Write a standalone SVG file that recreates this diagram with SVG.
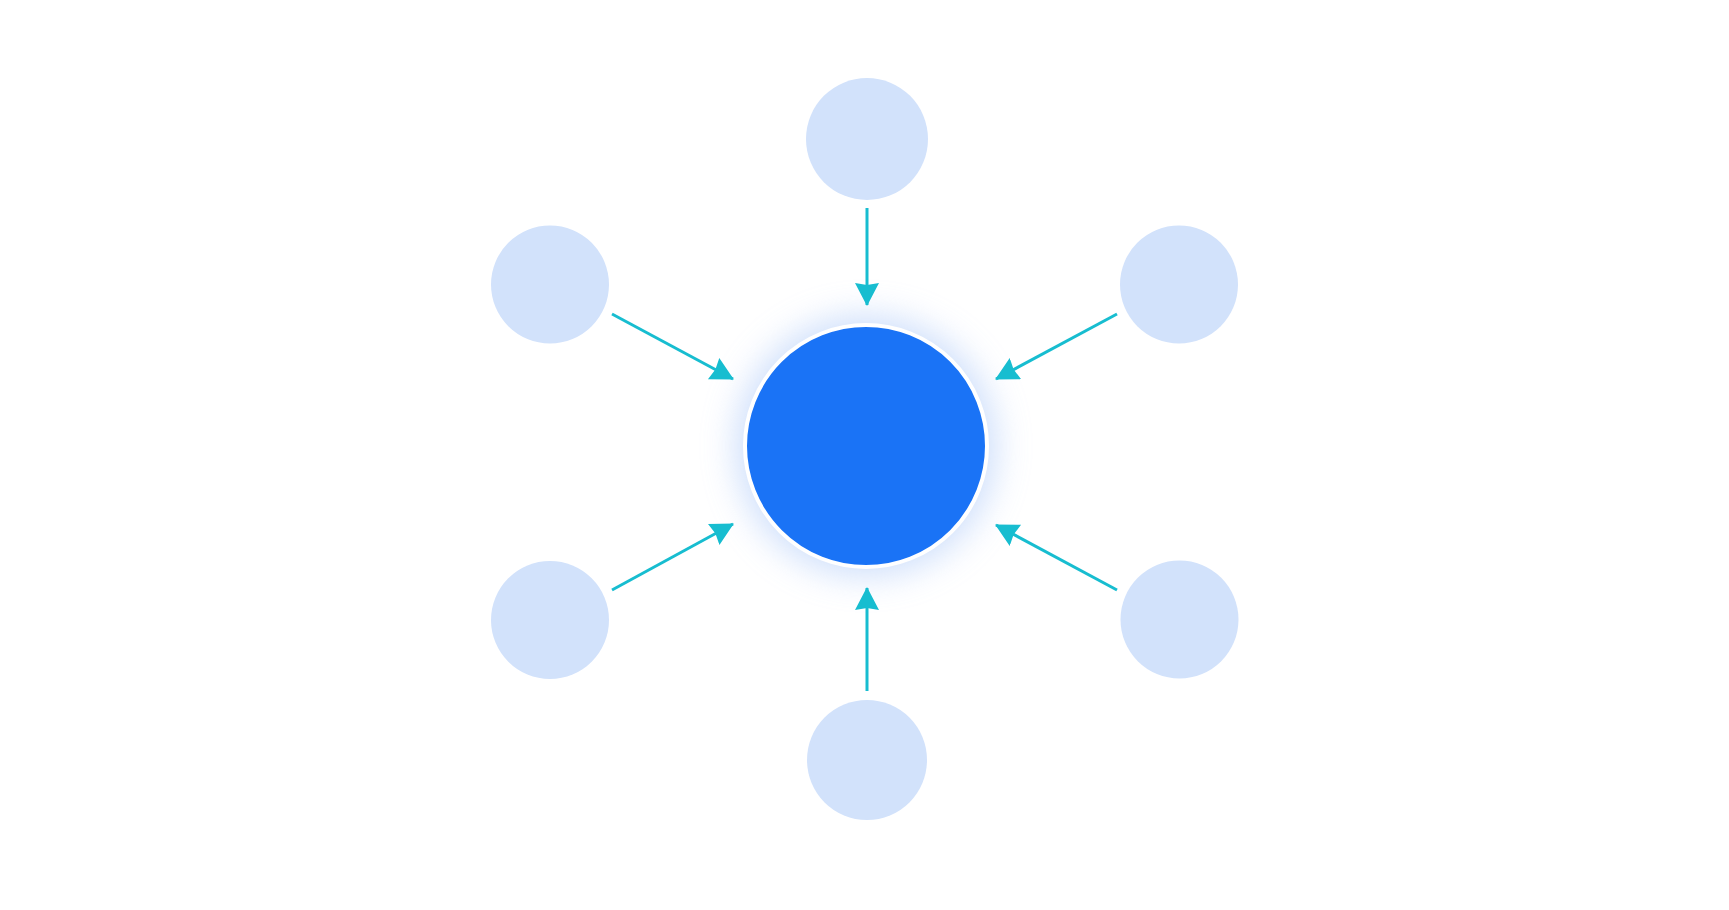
<svg xmlns="http://www.w3.org/2000/svg" width="1729" height="910" viewBox="0 0 1729 910">
  <defs>
    <style>
      .sat { fill: #D2E2FB; }
      .conn { stroke: #17BDD0; stroke-width: 3; fill: none; marker-end: url(#arrow); }
    </style>
    <marker id="arrow" markerUnits="userSpaceOnUse" markerWidth="24" markerHeight="26" refX="22" refY="12" orient="auto">
      <path d="M0,0 L23,12 L0,24 L2,12 z" fill="#17BDD0"/>
    </marker>
    <filter id="glow" x="-50%" y="-50%" width="200%" height="200%">
      <feGaussianBlur stdDeviation="17"/>
    </filter>
  </defs>
  <rect x="0" y="0" width="1729" height="910" fill="#FFFFFF"/>

  <g id="center">
    <circle cx="866" cy="446" r="130" fill="#B3CDF9" opacity="0.65" filter="url(#glow)"/>
    <circle cx="866" cy="446" r="121" fill="#1A73F6" stroke="#FFFFFF" stroke-width="4"/>
  </g>

  <g id="node-top"><circle class="sat" cx="867" cy="139" r="61"/></g>
  <g id="node-upper-left"><circle class="sat" cx="550" cy="284.5" r="59"/></g>
  <g id="node-upper-right"><circle class="sat" cx="1179" cy="284.5" r="59"/></g>
  <g id="node-lower-left"><circle class="sat" cx="550" cy="620" r="59"/></g>
  <g id="node-lower-right"><circle class="sat" cx="1179.5" cy="619.5" r="59"/></g>
  <g id="node-bottom"><circle class="sat" cx="867" cy="760" r="60"/></g>

  <g id="connectors">
    <line class="conn" x1="867" y1="208" x2="867" y2="305"/>
    <line class="conn" x1="612" y1="314" x2="733" y2="379"/>
    <line class="conn" x1="1117" y1="314" x2="996" y2="379"/>
    <line class="conn" x1="612" y1="590" x2="733" y2="524"/>
    <line class="conn" x1="1117" y1="590" x2="996" y2="525"/>
    <line class="conn" x1="867" y1="691" x2="867" y2="588"/>
  </g>
</svg>
